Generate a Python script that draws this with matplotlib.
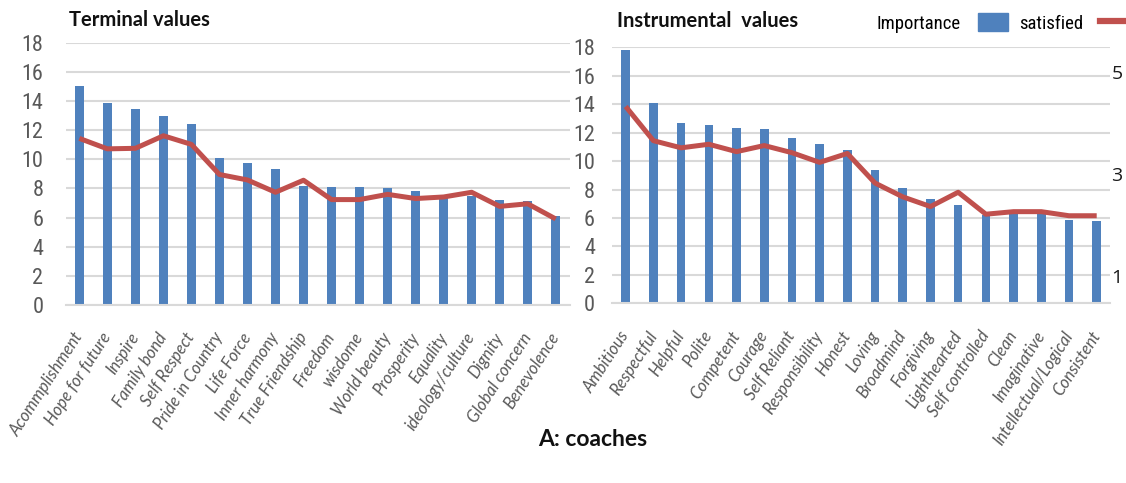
import matplotlib
matplotlib.use("Agg")
import matplotlib.pyplot as plt
from matplotlib import font_manager
from matplotlib.font_manager import FontProperties
from matplotlib.patches import Patch
from matplotlib.lines import Line2D

# ---------------- data ----------------
terminal_labels = ["Acommplishment", "Hope for future", "Inspire", "Family bond", "Self Respect",
                   "Pride in Country", "Life Force", "Inner harmony", "True Friendship", "Freedom",
                   "wisdome", "World beauty", "Prosperity", "Equality", "ideology/culture",
                   "Dignity", "Global concern", "Benevolence"]
terminal_importance = [15.05, 13.85, 13.43, 13.0, 12.4, 10.07, 9.72, 9.3, 8.16, 8.09,
                       8.09, 8.02, 7.82, 7.4, 7.47, 7.2, 7.13, 6.09]
terminal_satisfied = [3.65, 3.45, 3.46, 3.70, 3.535, 2.96, 2.855, 2.62, 2.85, 2.48,
                      2.48, 2.58, 2.50, 2.53, 2.62, 2.35, 2.40, 2.11]

instrumental_labels = ["Ambitious", "Respectful", "Helpful", "Polite", "Competent", "Courage",
                       "Self Reliant", "Responsibility", "Honest", "Loving", "Broadmind",
                       "Forgiving", "Lighthearted", "Self controlled", "Clean", "Imaginative",
                       "Intellectual/Logical", "Consistent"]
instrumental_importance = [17.8, 14.05, 12.7, 12.55, 12.35, 12.25, 11.6, 11.2, 10.8, 9.37,
                           8.1, 7.3, 6.9, 6.2, 6.26, 6.26, 5.86, 5.8]
instrumental_satisfied = [4.32, 3.65, 3.51, 3.58, 3.435, 3.555, 3.415, 3.225, 3.40, 2.82,
                          2.55, 2.36, 2.64, 2.21, 2.26, 2.26, 2.18, 2.18]

importance_ticks = [0, 2, 4, 6, 8, 10, 12, 14, 16, 18]
satisfied_ticks = [1, 3, 5]

# ---------------- fonts ----------------
fonts = font_manager.fontManager.ttflist
available = {f.name for f in fonts}


def pick(names, pool):
    for n in names:
        if n in pool:
            return n
    return "DejaVu Sans"


def italic_file(names):
    for n in names:
        cands = [f for f in fonts if f.name == n and f.style in ("italic", "oblique")]
        if cands:
            cands.sort(key=lambda f: abs((f.weight if isinstance(f.weight, int) else 400) - 400))
            return cands[0].fname
    return None


NARROW = pick(["Liberation Sans Narrow", "Roboto Condensed", "DejaVu Sans"], available)
BODY = pick(["Lato", "Open Sans", "DejaVu Sans"], available)
NUM = pick(["Open Sans", "Lato", "DejaVu Sans"], available)
ital_path = italic_file(["Lato", "Open Sans", "Noto Sans", "Roboto", "Liberation Sans", "DejaVu Sans"])
if ital_path:
    ITAL_PROP = FontProperties(fname=ital_path, size=12)
else:
    ITAL_PROP = FontProperties(family="DejaVu Sans", style="italic", size=12)

BLUE = "#4F81BD"
RED = "#C0504D"
GRID = "#D9D9D9"
TICKGREY = "#595959"

W, H = 1126, 483
fig = plt.figure(figsize=(W / 100, H / 100), dpi=100)


def fx(px):
    return px / W


def fy(py):
    return 1 - py / H


def make_panel(rect, labels, imp, sat, xlim, ypad, show_right):
    ax = fig.add_axes(rect)
    x = list(range(len(labels)))
    ax.bar(x, imp, width=0.31, color=BLUE, zorder=2)
    ax.set_xlim(*xlim)
    ax.set_ylim(0, 18)
    ax.set_yticks(importance_ticks)
    ax.yaxis.grid(True, color=GRID, linewidth=1.5, zorder=0)
    ax.set_axisbelow(True)
    for s in ("top", "right", "left"):
        ax.spines[s].set_visible(False)
    ax.spines["bottom"].set_color(GRID)
    ax.spines["bottom"].set_linewidth(1.5)
    ax.tick_params(axis="y", length=0, pad=ypad, labelcolor=TICKGREY)
    for t in ax.get_yticklabels():
        t.set_fontfamily(NARROW)
        t.set_fontsize(16)
    ax.set_xticks(x)
    ax.set_xticklabels(labels, rotation=57, ha="right", va="center",
                       rotation_mode="anchor", fontproperties=ITAL_PROP, color=TICKGREY)
    ax.tick_params(axis="x", length=0, pad=21)

    ax2 = ax.twinx()
    ax2.set_ylim(0.465, 5.479)
    ax2.plot(x, sat, color=RED, linewidth=3.6, solid_joinstyle="round",
             solid_capstyle="butt", zorder=3)
    for s in ax2.spines.values():
        s.set_visible(False)
    ax2.set_yticks(satisfied_ticks)
    ax2.tick_params(axis="y", length=0, pad=1, labelcolor="#1a1a1a")
    for t in ax2.get_yticklabels():
        t.set_fontfamily(NUM)
        t.set_fontsize(14)
    if not show_right:
        ax2.set_yticklabels([])
    return ax, ax2


# left panel: Terminal values
make_panel([fx(65.7), fy(305), fx(570 - 65.7), (305 - 42.7) / H],
           terminal_labels, terminal_importance, terminal_satisfied,
           (-0.486, 17.51), 16.0, False)

# right panel: Instrumental values
make_panel([fx(611.7), fy(303.3), fx(1110 - 611.7), (303.3 - 47.3) / H],
           instrumental_labels, instrumental_importance, instrumental_satisfied,
           (-0.505, 17.48), 12.0, True)

fig.text(fx(69), fy(19.5), "Terminal values", fontfamily=BODY, fontweight="bold",
         fontsize=14.5, ha="left", va="center", color="#111111")
fig.text(fx(617), fy(20.7), "Instrumental  values", fontfamily=BODY, fontweight="bold",
         fontsize=14.5, ha="left", va="center", color="#111111")
fig.text(fx(593), fy(440), "A: coaches", fontfamily=BODY, fontweight="bold",
         fontsize=16.5, ha="center", va="center", color="#111111")

handles = [Patch(facecolor=BLUE, edgecolor=BLUE), Line2D([0], [0], color=RED, linewidth=4.5)]
fig.legend(handles, ["Importance", "satisfied"], loc="center",
           bbox_to_anchor=(fx(1003.5), fy(23)), ncol=2, frameon=False,
           markerfirst=False, handlelength=1.6, handleheight=1.1,
           handletextpad=0.9, columnspacing=0.6, borderpad=0, borderaxespad=0,
           prop={"family": NARROW, "size": 13.5})

fig.savefig("out.png", dpi=100)
